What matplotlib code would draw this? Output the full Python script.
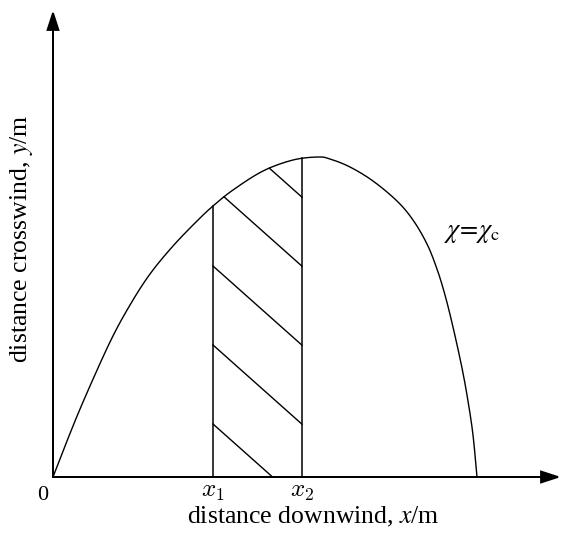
import numpy as np
import matplotlib.pyplot as plt

plt.rcParams['font.family'] = ['Liberation Serif', 'DejaVu Serif']
plt.rcParams['mathtext.fontset'] = 'stix'

# boundary curve chi = chi_c (downwind x, crosswind y)
curve_x = [0, 12, 30, 57, 77, 97, 120, 144, 160, 180, 210, 240, 265,
           277, 297, 320, 344, 360, 374, 384, 392, 400, 409, 415, 420, 424]
curve_y = [0, 31, 75, 135, 172, 203, 231, 256, 271, 287, 306, 317, 320,
           318, 310, 296, 276, 257, 233, 208, 182, 150, 109, 76, 42, 0]

x1 = 160
x2 = 249
# hatch lines: height where each crosses the x1 line, and their slope
hatch_y0 = [53, 132, 211, 290, 359]
hatch_slope = -0.89

x_end = 505
y_end = 464


def smooth(px, py, n=20):
    # Catmull-Rom spline through the read points, just to draw it smoothly
    p = np.column_stack([px, py]).astype(float)
    p = np.vstack([2 * p[0] - p[1], p, 2 * p[-1] - p[-2]])
    t = np.linspace(0, 1, n, endpoint=False)[:, None]
    out = []
    for i in range(1, len(p) - 2):
        p0, p1, p2, p3 = p[i - 1], p[i], p[i + 1], p[i + 2]
        out.append(0.5 * (2 * p1 + (-p0 + p2) * t
                          + (2 * p0 - 5 * p1 + 4 * p2 - p3) * t ** 2
                          + (-p0 + 3 * p1 - 3 * p2 + p3) * t ** 3))
    out.append(p[-2][None, :])
    out = np.vstack(out)
    return out[:, 0], out[:, 1]


fig = plt.figure(figsize=(5.62, 5.36), dpi=100)
ax = fig.add_axes([0, 0, 1, 1])
ax.set_xlim(-53, 509)
ax.set_ylim(-59, 477)
ax.axis('off')

# axes with arrows
ax.arrow(0, 0, x_end, 0, head_width=11, head_length=17, length_includes_head=True,
         fc='black', ec='black', lw=1.3)
ax.arrow(0, 0, 0, y_end, head_width=11, head_length=17, length_includes_head=True,
         fc='black', ec='black', lw=1.3)

# the curve
sx, sy = smooth(curve_x, curve_y)
ax.plot(sx, sy, color='black', lw=1.0, solid_capstyle='round')

order = np.argsort(sx)
top = lambda xv: np.interp(xv, sx[order], sy[order])

# vertical lines at x1 and x2 up to the curve
for xv in (x1, x2):
    ax.plot([xv, xv], [0, top(xv)], color='black', lw=1.1)

# diagonal hatching between x1 and x2, clipped to the curve and the x axis
xs = np.linspace(x1, x2, 600)
ctop = top(xs)
for y0 in hatch_y0:
    ys = y0 + hatch_slope * (xs - x1)
    ok = (ys >= 0) & (ys <= ctop)
    ax.plot(xs[ok], ys[ok], color='black', lw=1.0)

# labels
ax.text(-10, -18, '0', fontsize=16, ha='center', va='center')
ax.text(x1, -15, '$x_1$', fontsize=18, ha='center', va='center', math_fontfamily='cm')
ax.text(x2, -15, '$x_2$', fontsize=18, ha='center', va='center', math_fontfamily='cm')
ax.text(391, 243, r'$\chi\!=\!\chi_{\mathrm{c}}$', fontsize=19, ha='left', va='center')

ax.text(260, -40, 'distance downwind, $x$/m', fontsize=18.5, ha='center', va='center')
ax.text(-31, 238, 'distance crosswind, $y$/m', fontsize=18.5, ha='center', va='center',
        rotation=90)

fig.savefig('out.png', dpi=100, facecolor='white')
